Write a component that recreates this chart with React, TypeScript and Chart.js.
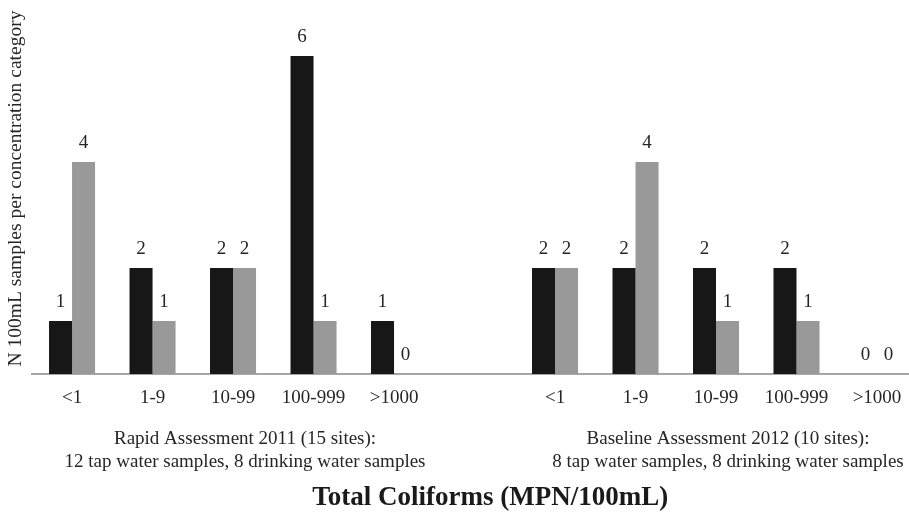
import React, { useEffect, useRef } from "react";
import { Chart, registerables } from "chart.js";

Chart.register(...registerables);

const concentrationCategories = ["<1", "1-9", "10-99", "100-999", ">1000"];
const rapidTap = [1, 2, 2, 6, 1];
const rapidDrinking = [4, 1, 2, 1, 0];
const baselineTap = [2, 2, 2, 2, 0];
const baselineDrinking = [2, 4, 1, 1, 0];
const rapidGroupLabel = [
  "Rapid Assessment 2011 (15 sites):",
  "12 tap water samples, 8 drinking water samples",
];
const baselineGroupLabel = [
  "Baseline Assessment 2012 (10 sites):",
  "8 tap water samples, 8 drinking water samples",
];
const yTitle = "N 100mL samples per concentration category";
const xTitle = "Total Coliforms (MPN/100mL)";

const FONT = "'Liberation Serif', 'Times New Roman', serif";

const labels = [...concentrationCategories, "", ...concentrationCategories];
const tapData: (number | null)[] = [...rapidTap, null, ...baselineTap];
const drinkingData: (number | null)[] = [...rapidDrinking, null, ...baselineDrinking];
const groupLabels: (string | string[])[] = labels.map((_, i) =>
  i === 2 ? rapidGroupLabel : i === 8 ? baselineGroupLabel : ""
);

const valueLabelPlugin = {
  id: "valueLabels",
  afterDatasetsDraw(chart: any) {
    const ctx = chart.ctx;
    ctx.save();
    ctx.font = `19px ${FONT}`;
    ctx.fillStyle = "#262626";
    ctx.textAlign = "center";
    ctx.textBaseline = "middle";
    chart.data.datasets.forEach((ds: any, di: number) => {
      const meta = chart.getDatasetMeta(di);
      meta.data.forEach((el: any, i: number) => {
        const v = ds.data[i];
        if (v === null || v === undefined) return;
        ctx.fillText(String(v), el.x, el.y - 18.5);
      });
    });
    ctx.restore();
  },
};

export default function App() {
  const ref = useRef<HTMLCanvasElement>(null);
  useEffect(() => {
    if (!ref.current) return;
    const chart = new Chart(ref.current, {
      type: "bar",
      data: {
        labels,
        datasets: [
          {
            label: "Tap water",
            data: tapData,
            backgroundColor: "#171717",
            borderWidth: 0,
            categoryPercentage: 0.572,
            barPercentage: 1,
          },
          {
            label: "Drinking water",
            data: drinkingData,
            backgroundColor: "#999999",
            borderWidth: 0,
            categoryPercentage: 0.572,
            barPercentage: 1,
          },
        ],
      },
      options: {
        animation: false,
        responsive: true,
        maintainAspectRatio: false,
        layout: { padding: { left: 0.4, top: 3, right: 0, bottom: 0 } },
        plugins: {
          legend: { display: false },
          tooltip: { enabled: false },
          title: {
            display: true,
            position: "bottom",
            text: xTitle,
            color: "#1a1a1a",
            font: { family: FONT, size: 27, weight: "bold" },
            padding: { top: 2.4, bottom: 3 },
          },
        },
        scales: {
          x: {
            type: "category",
            offset: true,
            grid: { display: false, drawTicks: false },
            border: { display: true, color: "#a6a6a6", width: 2 },
            ticks: {
              color: "#262626",
              font: { family: FONT, size: 19 },
              padding: 12.6,
              autoSkip: false,
              maxRotation: 0,
              minRotation: 0,
            },
          },
          x2: {
            type: "category",
            position: "bottom",
            labels: groupLabels as any,
            offset: true,
            grid: { display: false, drawTicks: false },
            border: { display: false },
            ticks: {
              color: "#262626",
              font: { family: FONT, size: 19 },
              padding: 5.8,
              labelOffset: 12,
              autoSkip: false,
              maxRotation: 0,
              minRotation: 0,
            },
          },
          y: {
            min: 0,
            max: 7,
            grid: { display: false, drawTicks: false },
            border: { display: false },
            ticks: { display: false },
            title: {
              display: true,
              text: yTitle,
              color: "#262626",
              font: { family: FONT, size: 19.5 },
              padding: { top: 4, bottom: 4 },
            },
          },
          yRight: {
            type: "linear",
            position: "right",
            display: true,
            grid: { display: false, drawTicks: false },
            border: { display: false },
            ticks: { display: false },
            afterFit: (scale: any) => {
              scale.width = 62.75;
            },
          },
        },
      },
      plugins: [valueLabelPlugin],
    });
    return () => chart.destroy();
  }, []);

  return (
    <div
      style={{
        position: "fixed",
        left: 0,
        top: 0,
        width: 909,
        height: 517,
        overflow: "hidden",
        background: "#fff",
      }}
    >
      <div style={{ position: "relative", width: 980, height: 517 }}>
        <canvas ref={ref} />
      </div>
    </div>
  );
}
